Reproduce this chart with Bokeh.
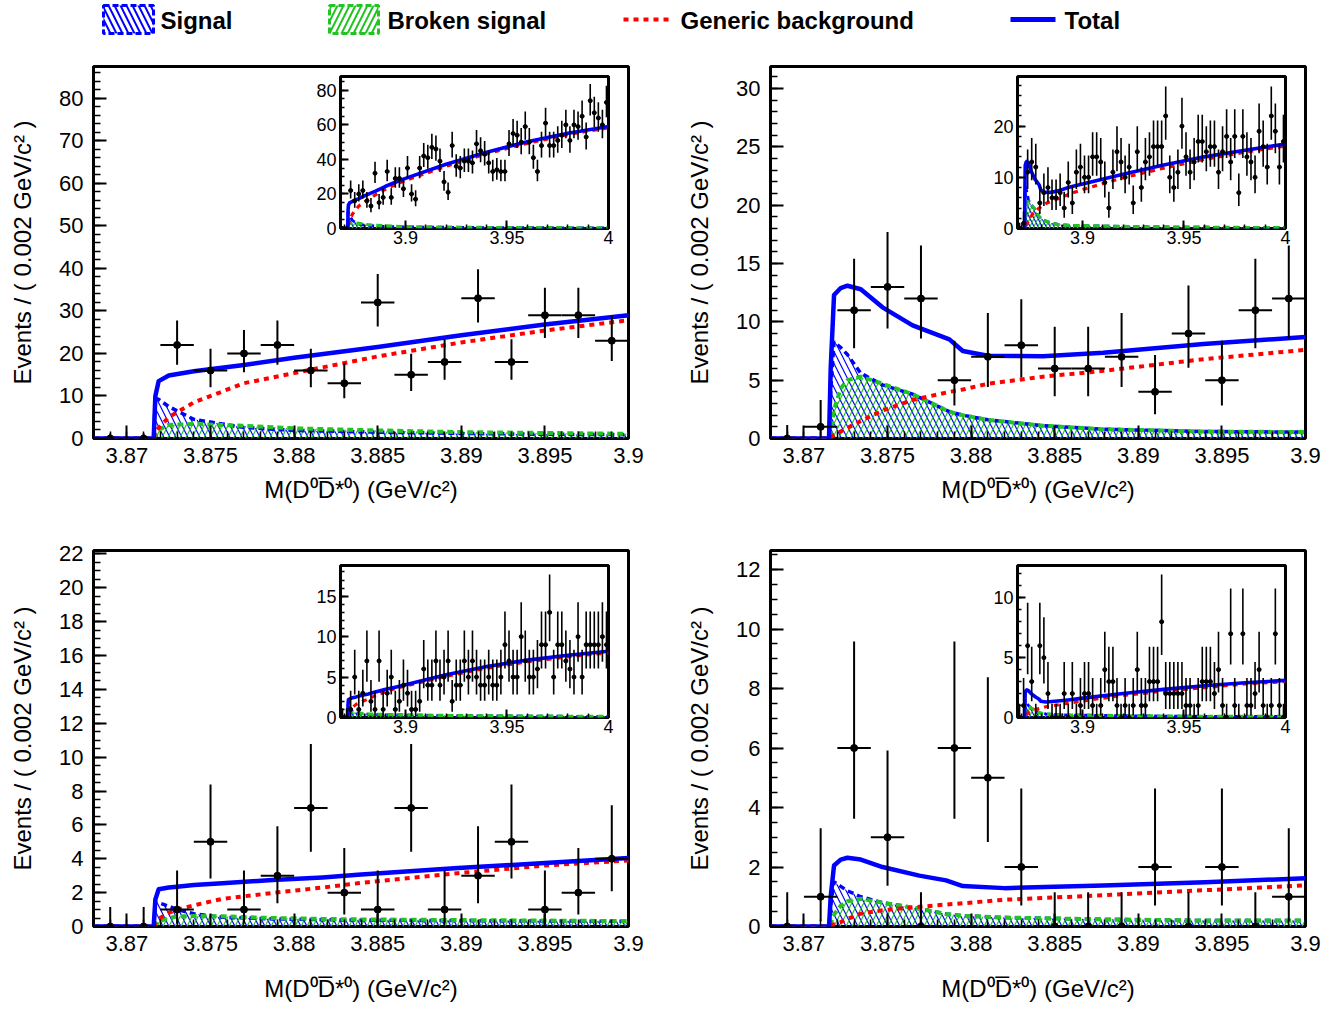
import math
from bokeh.plotting import figure
from bokeh.models import (ColumnDataSource, Range1d, SingleIntervalTicker,
                          CustomJSTickFormatter, GridBox)
from bokeh.embed import file_html
from bokeh.resources import INLINE
from bokeh.core.properties import value

# ---------------- data ----------------
BIN_LO = 3.868
BIN_W = 0.002

counts_A = [0, 0, 22, 16, 20, 22, 16, 13, 32, 15, 18, 33, 18, 29, 29, 23,
            35, 20, 17, 35, 42, 41, 47, 46, 39, 27, 21, 48, 36, 35, 39, 39, 38, 49, 45, 43,
            38, 33, 34, 33, 33, 49, 55, 54, 50, 59, 50, 41, 33, 48, 61, 48, 48, 51, 54, 60,
            51, 60, 59, 65, 53, 74, 67, 64, 60, 73]
counts_B = [0, 1, 11, 13, 12, 5, 7, 8, 6, 6, 7, 4, 9, 5, 11, 12,
            10, 10, 14, 14, 13, 9, 4, 11, 15, 13, 10, 12, 5, 15, 8, 13, 14, 16, 16, 16,
            22, 10, 8, 11, 20, 14, 11, 13, 17, 17, 15, 16, 16, 11, 15, 18, 13, 18, 7, 18,
            14, 13, 10, 19, 16, 12, 22, 19, 12, 17]
counts_C = [0, 0, 1, 5, 1, 3, 7, 2, 1, 7, 1, 3, 5, 1, 2, 4,
            3, 1, 1, 2, 6, 4, 4, 7, 4, 5, 7, 2, 4, 4, 7, 5, 7, 5, 4, 4,
            5, 4, 4, 5, 9, 7, 5, 5, 10, 7, 5, 5, 6, 9, 9, 13, 5, 9, 9, 7,
            6, 5, 10, 5, 9, 9, 9, 9, 10, 9]
counts_D = [0, 1, 6, 3, 0, 6, 5, 2, 0, 0, 0, 2, 0, 2, 0, 1,
            2, 2, 1, 0, 1, 4, 3, 3, 1, 0, 1, 0, 1, 4, 1, 1, 3, 3, 3, 8,
            2, 2, 2, 2, 2, 1, 1, 0, 1, 3, 3, 3, 2, 4, 1, 0, 7, 1, 0, 7,
            1, 1, 2, 4, 1, 0, 1, 7, 1, 0]

# fit curves
x_A = [3.868, 3.8716, 3.8717, 3.8719, 3.8725, 3.874, 3.877, 3.88, 3.885, 3.89, 3.895, 3.9,
       3.92, 3.94, 3.96, 3.98, 4.0]
tot_A = [0, 0, 10, 13.5, 14.8, 15.8, 17.3, 19.0, 21.5, 24.3, 26.8, 29.0, 37.2, 44.2, 50.2, 55.2, 59.0]
bkg_A = [0, 0, 1.5, 2.5, 5.0, 8.5, 13.0, 15.4, 19.3, 22.6, 25.4, 27.8, 36.0, 43.2, 49.3, 54.4, 58.3]
sig_A = [0, 0, 9.5, 9.2, 7.5, 4.5, 2.6, 1.9, 1.5, 1.2, 1.0, 0.9, 0.7, 0.55, 0.45, 0.4, 0.35]
brk_A = [0, 0, 0.5, 2.0, 3.2, 3.4, 3.0, 2.4, 1.9, 1.5, 1.3, 1.1, 0.8, 0.6, 0.5, 0.45, 0.4]

x_B = [3.868, 3.8715, 3.8716, 3.8718, 3.8722, 3.8726, 3.8734, 3.8747, 3.8765, 3.8787, 3.8795,
       3.881, 3.8843, 3.8879, 3.8939, 3.9, 3.92, 3.94, 3.96, 3.98, 4.0]
tot_B = [0, 0, 6, 12.3, 12.9, 13.1, 12.8, 11.25, 9.7, 8.5, 7.5, 7.1, 7.05, 7.35, 8.1, 8.7,
         10.6, 12.4, 14.0, 15.3, 16.5]
bkg_B = [0, 0, 0.1, 0.3, 0.6, 0.9, 1.5, 2.4, 3.3, 4.0, 4.2, 4.7, 5.3, 5.8, 6.8, 7.6,
         9.9, 11.8, 13.5, 14.9, 16.1]
sig_B = [0, 0, 4.0, 8.3, 7.8, 7.2, 5.6, 4.6, 3.8, 2.3, 2.0, 1.6, 1.1, 0.8, 0.6, 0.55,
         0.4, 0.3, 0.25, 0.2, 0.2]
brk_B = [0, 0, 0.5, 2.5, 4.3, 5.0, 5.3, 4.7, 3.8, 2.3, 2.0, 1.6, 1.1, 0.8, 0.6, 0.55,
         0.4, 0.3, 0.25, 0.2, 0.2]

x_C = [3.868, 3.8716, 3.8717, 3.8719, 3.8725, 3.873, 3.874, 3.8757, 3.8787, 3.8817, 3.8838,
       3.8898, 3.895, 3.9, 3.92, 3.94, 3.96, 3.98, 4.0]
tot_C = [0, 0, 1.6, 2.2, 2.3, 2.35, 2.45, 2.55, 2.75, 2.9, 3.05, 3.45, 3.75, 4.05, 5.3, 6.3, 7.1, 7.7, 8.2]
bkg_C = [0, 0, 0.2, 0.45, 0.8, 1.0, 1.25, 1.63, 1.98, 2.3, 2.55, 3.15, 3.6, 3.9, 5.1, 6.1, 6.9, 7.5, 8.0]
sig_C = [0, 0, 1.4, 1.4, 1.2, 1.0, 0.75, 0.55, 0.45, 0.4, 0.38, 0.35, 0.33, 0.3, 0.25, 0.2, 0.18, 0.15, 0.15]
brk_C = [0, 0, 0.1, 0.3, 0.5, 0.6, 0.62, 0.6, 0.5, 0.45, 0.42, 0.38, 0.35, 0.32, 0.25, 0.2, 0.18, 0.15, 0.15]

x_D = [3.868, 3.8715, 3.8716, 3.8718, 3.8722, 3.8726, 3.8734, 3.8747, 3.8769, 3.8785, 3.8795,
       3.882, 3.8879, 3.894, 3.9, 3.92, 3.94, 3.96, 3.98, 4.0]
tot_D = [0, 0, 1.0, 2.05, 2.25, 2.31, 2.25, 2.0, 1.71, 1.55, 1.36, 1.29, 1.38, 1.49, 1.62,
         2.0, 2.35, 2.65, 2.9, 3.1]
bkg_D = [0, 0, 0.02, 0.08, 0.15, 0.25, 0.43, 0.55, 0.66, 0.74, 0.78, 0.9, 1.05, 1.22, 1.38,
         1.85, 2.2, 2.5, 2.8, 3.0]
sig_D = [0, 0, 0.7, 1.5, 1.35, 1.2, 1.0, 0.8, 0.6, 0.42, 0.36, 0.3, 0.24, 0.2, 0.2,
         0.15, 0.12, 0.1, 0.1, 0.1]
brk_D = [0, 0, 0.1, 0.4, 0.7, 0.85, 0.93, 0.8, 0.6, 0.42, 0.36, 0.3, 0.24, 0.2, 0.2,
         0.15, 0.12, 0.1, 0.1, 0.1]

legend_labels = ["Signal", "Broken signal", "Generic background", "Total"]
x_title = "M(D\u2070D\u0305*\u2070) (GeV/c\u00b2)"
y_title = "Events / ( 0.002 GeV/c\u00b2 )"

BLUE = "#0000ff"
RED = "#ff0000"
GREEN = "#22c322"
FONT = "Liberation Sans"


# ---------------- helpers ----------------
def pois_cdf(k, mu):
    term = math.exp(-mu)
    s = term
    for i in range(1, k + 1):
        term *= mu / i
        s += term
    return s


def solve_dec(f, target, lo, hi):
    for _ in range(80):
        mid = 0.5 * (lo + hi)
        if f(mid) > target:
            lo = mid
        else:
            hi = mid
    return 0.5 * (lo + hi)


def pois_err(n):
    if n == 0:
        return 0.0, solve_dec(lambda m: pois_cdf(0, m), 0.31731, 0.0, 10.0)
    up = solve_dec(lambda m: pois_cdf(n, m), 0.158655, float(n), n + 10 * math.sqrt(n) + 10)
    low = solve_dec(lambda m: pois_cdf(n - 1, m), 0.841345, 0.0, float(n))
    return low, up


def data_source(counts):
    cx = [BIN_LO + BIN_W * (i + 0.5) for i in range(len(counts))]
    lo, hi = [], []
    for n in counts:
        a, b = pois_err(n)
        lo.append(a)
        hi.append(b)
    return ColumnDataSource(dict(x=cx, n=counts, lo=lo, hi=hi,
                                 xl=[c - BIN_W / 2 for c in cx],
                                 xr=[c + BIN_W / 2 for c in cx]))


fmt = CustomJSTickFormatter(code="return parseFloat(tick.toFixed(4)).toString();")


def style(p, fs, maj, mino):
    p.grid.visible = False
    p.outline_line_color = "black"
    p.outline_line_width = 3
    p.background_fill_color = "white"
    for ax in (p.xaxis[0], p.yaxis[0]):
        ax.axis_line_color = None
        ax.major_tick_in = maj
        ax.major_tick_out = 0
        ax.minor_tick_in = mino
        ax.minor_tick_out = 0
        ax.major_tick_line_width = 2
        ax.minor_tick_line_width = 1.5
        ax.major_tick_line_color = "black"
        ax.minor_tick_line_color = "black"
        ax.major_label_text_font = FONT
        ax.major_label_text_font_size = fs
        ax.major_label_text_color = "black"
        ax.axis_label_text_font = FONT
        ax.axis_label_text_font_style = "normal"
        ax.axis_label_text_font_size = "24px"
        ax.axis_label_text_color = "black"
    p.xaxis[0].formatter = fmt


def draw(p, xc, tot, bkg, sig, brk, counts, main=True):
    src = ColumnDataSource(dict(x=xc, tot=tot, bkg=bkg, sig=sig, brk=brk, zero=[0] * len(xc)))
    hs = 12 if main else 8
    p.varea(x="x", y1="zero", y2="sig", source=src, fill_color=None, fill_alpha=0,
            hatch_pattern="\\", hatch_color=BLUE, hatch_scale=hs, hatch_weight=1.2)
    p.varea(x="x", y1="zero", y2="brk", source=src, fill_color=None, fill_alpha=0,
            hatch_pattern="/", hatch_color=GREEN, hatch_scale=hs, hatch_weight=1.2)
    lw = 1.0 if main else 0.8
    p.line("x", "sig", source=src, line_color=BLUE, line_width=3.5 * lw, line_dash="6 4")
    p.line("x", "brk", source=src, line_color=GREEN, line_width=4 * lw, line_dash="6 4")
    p.line("x", "bkg", source=src, line_color=RED, line_width=4 * lw, line_dash="5 5")
    p.line("x", "tot", source=src, line_color=BLUE, line_width=4.5 * lw, line_join="round")
    ds = data_source(counts)
    ew = 2 if main else 1.6
    p.segment(x0="x", y0="lo", x1="x", y1="hi", source=ds, line_color="black", line_width=ew)
    p.segment(x0="xl", y0="n", x1="xr", y1="n", source=ds, line_color="black", line_width=ew)
    p.scatter("x", "n", source=ds, size=7 if main else 4, color="black")


def main_panel(w, h, bl, br, bt, bb, ymax, yint, yminor, xstand, xc, tot, bkg, sig, brk, counts):
    p = figure(width=w, height=h, x_range=Range1d(3.868, 3.9), y_range=Range1d(0, ymax),
               output_backend="svg", toolbar_location=None,
               min_border_left=bl, min_border_right=br, min_border_top=bt, min_border_bottom=bb)
    p.border_fill_color = "white"
    p.xaxis[0].ticker = SingleIntervalTicker(interval=0.005, num_minor_ticks=5)
    p.yaxis[0].ticker = SingleIntervalTicker(interval=yint, num_minor_ticks=yminor)
    style(p, "22px", 13, 7)
    p.xaxis[0].axis_label = x_title
    p.yaxis[0].axis_label = y_title
    p.xaxis[0].major_label_standoff = 9
    p.yaxis[0].major_label_standoff = 10
    p.xaxis[0].axis_label_standoff = xstand
    p.yaxis[0].axis_label_standoff = 20
    draw(p, xc, tot, bkg, sig, brk, counts, main=True)
    return p


def inset_panel(ymax, yint, yminor, xc, tot, bkg, sig, brk, counts):
    p = figure(width=320, height=180, x_range=Range1d(3.868, 4.0), y_range=Range1d(0, ymax),
               output_backend="svg", toolbar_location=None,
               min_border_left=40, min_border_right=12, min_border_top=6, min_border_bottom=22)
    p.border_fill_alpha = 0
    p.xaxis[0].ticker = SingleIntervalTicker(interval=0.05, num_minor_ticks=5)
    p.yaxis[0].ticker = SingleIntervalTicker(interval=yint, num_minor_ticks=yminor)
    style(p, "18px", 8, 4)
    p.xaxis[0].major_label_standoff = 2
    p.yaxis[0].major_label_standoff = 4
    draw(p, xc, tot, bkg, sig, brk, counts, main=False)
    return p


# ---------------- panels ----------------
pA = main_panel(677, 467, 93, 49, 21, 74, 87.5, 10, 5, 10, x_A, tot_A, bkg_A, sig_A, brk_A, counts_A)
pB = main_panel(667, 467, 93, 39, 21, 74, 31.9, 5, 5, 10, x_B, tot_B, bkg_B, sig_B, brk_B, counts_B)
pC = main_panel(677, 501, 93, 49, 38, 87, 22.2, 2, 4, 21, x_C, tot_C, bkg_C, sig_C, brk_C, counts_C)
pD = main_panel(667, 501, 93, 39, 38, 87, 12.64, 2, 4, 21, x_D, tot_D, bkg_D, sig_D, brk_D, counts_D)

iA = inset_panel(88, 20, 4, x_A, tot_A, bkg_A, sig_A, brk_A, counts_A)
iB = inset_panel(29.7, 10, 5, x_B, tot_B, bkg_B, sig_B, brk_B, counts_B)
iC = inset_panel(18.8, 5, 5, x_C, tot_C, bkg_C, sig_C, brk_C, counts_C)
iD = inset_panel(12.7, 5, 5, x_D, tot_D, bkg_D, sig_D, brk_D, counts_D)

# ---------------- legend ----------------
# the grid aligns this strip's inner frame with the panels' frames (x 93..1305),
# so the legend's coordinate range is set to that span (units = page pixels)
lg = figure(width=1344, height=45, x_range=Range1d(93, 1305), y_range=Range1d(45, 0),
            x_axis_type=None, y_axis_type=None,
            output_backend="svg", toolbar_location=None,
            min_border=0, min_border_left=0, min_border_right=0,
            min_border_top=0, min_border_bottom=0)
lg.grid.visible = False
lg.outline_line_color = None
lg.quad(left=[103], right=[153], top=[5], bottom=[33], fill_color=None, fill_alpha=0,
        hatch_pattern="\\", hatch_color=BLUE, hatch_scale=12, hatch_weight=2,
        line_color=BLUE, line_width=3, line_dash="6 3")
lg.quad(left=[329], right=[378], top=[5], bottom=[33], fill_color=None, fill_alpha=0,
        hatch_pattern="/", hatch_color=GREEN, hatch_scale=12, hatch_weight=2,
        line_color=GREEN, line_width=3, line_dash="6 3")
lg.segment(x0=[623], y0=[19], x1=[672], y1=[19], line_color=RED, line_width=4, line_dash="5 5")
lg.segment(x0=[1010], y0=[19], x1=[1055], y1=[19], line_color=BLUE, line_width=5)
lg.text(x=[160, 387, 680, 1064], y=[20, 20, 20, 20], text=legend_labels,
        text_font=value(FONT), text_font_style="bold", text_font_size="24px",
        text_baseline="middle", text_align="left", text_color="black")

layout = GridBox(
    children=[
        (lg, 0, 0, 1, 6),
        (pA, 1, 0, 3, 3), (iA, 2, 1, 1, 1),
        (pB, 1, 3, 3, 3), (iB, 2, 4, 1, 1),
        (pC, 4, 0, 3, 3), (iC, 5, 1, 1, 1),
        (pD, 4, 3, 3, 3), (iD, 5, 4, 1, 1),
    ],
    rows=["45px", "25px", "180px", "262px", "47px", "180px", "274px"],
    cols=["300px", "320px", "57px", "300px", "320px", "47px"],
    spacing=0,
)

open("out.html", "w").write(file_html(layout, INLINE))
